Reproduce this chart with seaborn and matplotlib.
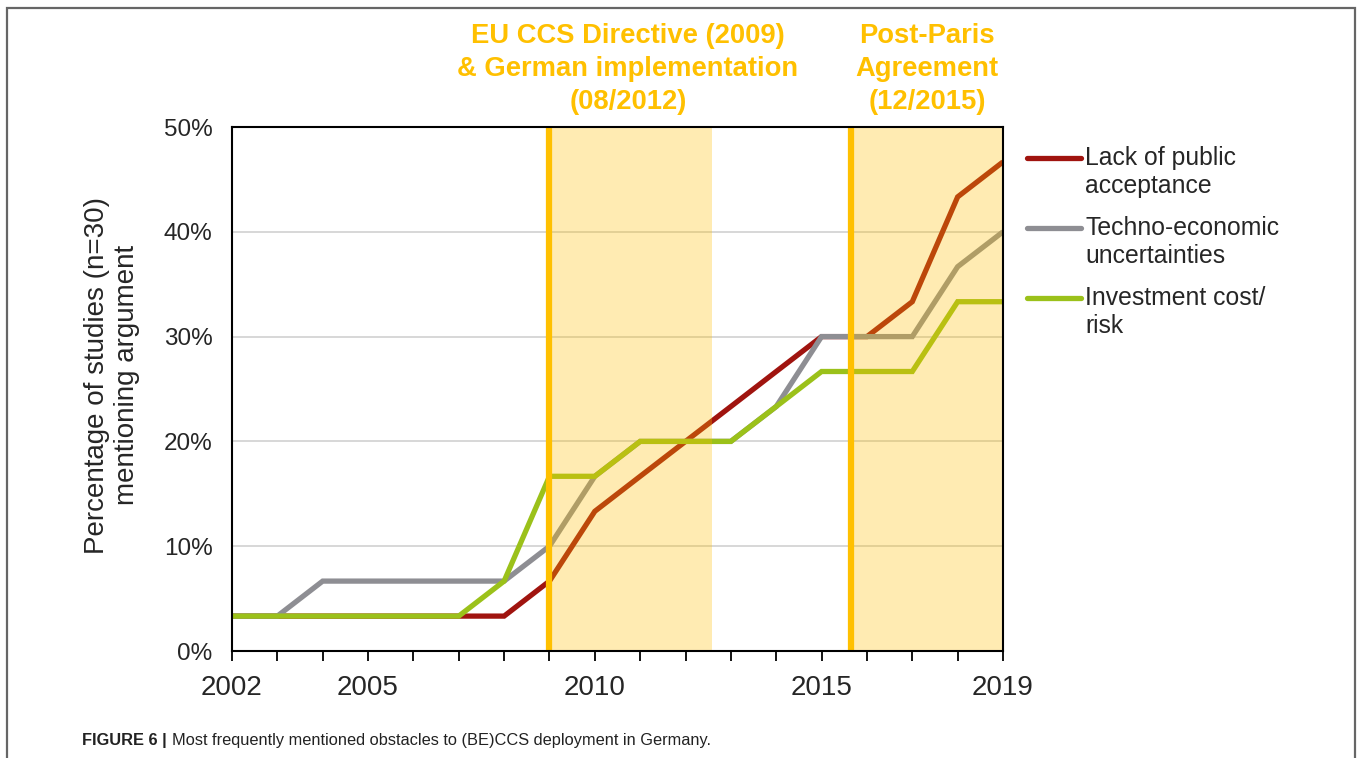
import numpy as np
import pandas as pd
import seaborn as sns
import matplotlib.pyplot as plt
from matplotlib.lines import Line2D
from matplotlib.patches import Rectangle

# Values (percentage of n=30 studies)
years = list(range(2002, 2020))
public_acceptance = [3.33, 3.33, 3.33, 3.33, 3.33, 3.33, 3.33, 6.67, 13.33, 16.67,
                     20.0, 23.33, 26.67, 30.0, 30.0, 33.33, 43.33, 46.67]
techno_economic = [3.33, 3.33, 6.67, 6.67, 6.67, 6.67, 6.67, 10.0, 16.67, 20.0,
                   20.0, 20.0, 23.33, 30.0, 30.0, 30.0, 36.67, 40.0]
investment_cost = [3.33, 3.33, 3.33, 3.33, 3.33, 3.33, 6.67, 16.67, 16.67, 20.0,
                   20.0, 20.0, 23.33, 26.67, 26.67, 26.67, 33.33, 33.33]

series_names = ["Lack of public\nacceptance", "Techno-economic\nuncertainties", "Investment cost/\nrisk"]
series_colors = ["#A0140F", "#8E8E93", "#9BC11A"]
labelled_years = [2002, 2005, 2010, 2015, 2019]

# policy periods: (start, end, annotation)
periods = [(2009.0, 2012.58, "EU CCS Directive (2009)\n& German implementation\n(08/2012)"),
           (2015.65, 2019.0, "Post-Paris\nAgreement\n(12/2015)")]
annot_x = [628, 927]

ORANGE = "#FFC000"


def main():
    sns.set_theme(style="white")
    plt.rcParams["font.family"] = ["Liberation Sans", "DejaVu Sans"]

    df = pd.DataFrame({
        "year": years * 3,
        "value": public_acceptance + techno_economic + investment_cost,
        "series": [series_names[0]] * len(years) + [series_names[1]] * len(years)
                  + [series_names[2]] * len(years),
    })

    W, H = 1358, 758
    fig = plt.figure(figsize=(W / 100, H / 100), dpi=100)
    ax = fig.add_axes([232 / W, 1 - 651 / H, (1003 - 232) / W, (651 - 127) / H])

    sns.lineplot(data=df, x="year", y="value", hue="series", hue_order=series_names,
                 palette=series_colors, linewidth=3.8, legend=False, ax=ax,
                 zorder=3)
    for line in ax.get_lines():
        line.set_solid_capstyle("butt")
        line.set_solid_joinstyle("miter")

    # shaded periods drawn over the lines, orange marker line at start
    for start, end, _ in periods:
        ax.axvspan(start, end, color=ORANGE, alpha=0.3, lw=0, zorder=4)
        ax.axvline(start, color=ORANGE, lw=4.5, zorder=5)

    ax.set_xlim(2002, 2019)
    ax.set_ylim(0, 50)
    ax.set_yticks(np.arange(0, 51, 10))
    ax.set_yticklabels([f"{v}%" for v in range(0, 51, 10)])
    ax.set_xticks(years)
    ax.set_xticklabels([str(y) if y in labelled_years else "" for y in years])
    for y in range(10, 50, 10):
        ax.axhline(y, color="#D4D4D4", lw=1.3, zorder=1)

    ax.tick_params(axis="x", direction="out", length=7, width=1.3, color="black",
                   labelsize=20, pad=10, bottom=True)
    ax.tick_params(axis="y", length=0, labelsize=17.5, pad=14)
    for s in ax.spines.values():
        s.set_color("black")
        s.set_linewidth(1.5)
        s.set_zorder(6)
    ax.set_xlabel("")
    ax.set_ylabel("")

    # y label
    fig.text(112 / W, 1 - 375 / H, "Percentage of studies (n=30)\nmentioning argument",
             rotation=90, ha="center", va="center", multialignment="center",
             fontsize=20, linespacing=1.2)

    # period annotations
    for (start, end, txt), xc in zip(periods, annot_x):
        fig.text(xc / W, 1 - 69 / H, txt, ha="center", va="center", color=ORANGE,
                 fontsize=19.7, fontweight="bold", linespacing=1.33,
                 multialignment="center")

    # legend drawn by hand
    legend_y = [158, 228, 298]
    for name, color, ly in zip(series_names, series_colors, legend_y):
        fig.add_artist(Line2D([1027 / W, 1081 / W], [1 - ly / H] * 2, color=color,
                              lw=3.8, solid_capstyle="round"))
        fig.text(1085 / W, 1 - (ly + 14) / H, name, ha="left", va="center",
                 fontsize=17.8, linespacing=1.25)

    # caption
    t1 = fig.text(82 / W, 1 - 741 / H, "FIGURE 6 |", ha="left", va="center",
                  fontsize=11.8, fontweight="bold", color="#222222")
    fig.canvas.draw()
    bb = t1.get_window_extent()
    fig.text((bb.x1 + 5) / W, 1 - 741 / H,
             "Most frequently mentioned obstacles to (BE)CCS deployment in Germany.",
             ha="left", va="center", fontsize=11.8, color="#222222")

    # frame around the figure panel
    fig.add_artist(Rectangle((7 / W, -0.05), (1355 - 7) / W, 1.05 - 8 / H,
                             transform=fig.transFigure, fill=False,
                             edgecolor="#666666", lw=1.6))

    fig.savefig("out.png", dpi=100)


if __name__ == "__main__":
    main()
